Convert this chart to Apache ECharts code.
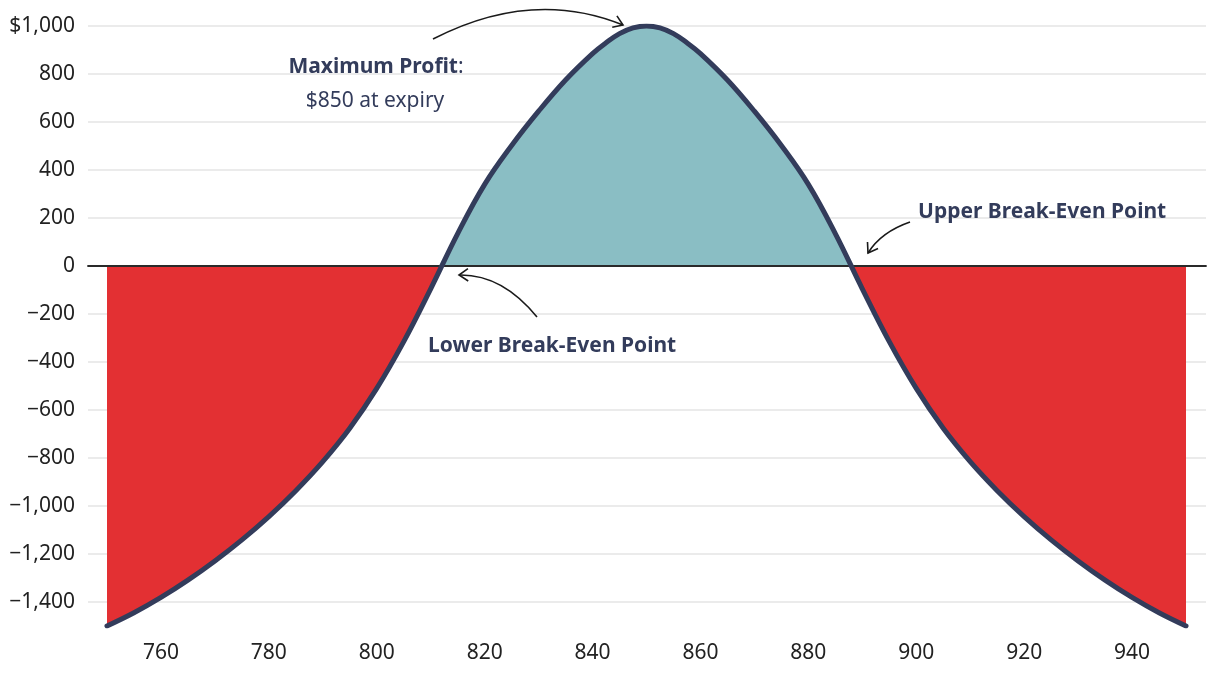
<!DOCTYPE html>
<html>
<head>
<meta charset="utf-8">
<script src="https://cdn.jsdelivr.net/npm/echarts@6/dist/echarts.min.js"></script>
<style>
  html, body { margin: 0; padding: 0; background: #ffffff; }
  #chart { width: 1220px; height: 678px; }
</style>
</head>
<body>
<div id="chart"></div>
<script>
// ---- data ----
const stockPrices = [750, 755, 760, 765, 770, 775, 780, 785, 790, 795, 800, 805, 810, 815, 820, 825, 830, 835, 840, 842.5, 845, 847.5, 850,
                     852.5, 855, 857.5, 860, 865, 870, 875, 880, 885, 890, 895, 900, 905, 910, 915, 920, 925, 930, 935, 940, 945, 950];
const profitLoss = [-1500, -1445, -1381, -1309, -1229, -1141, -1044, -936, -815, -676, -510, -315, -95, 135, 340, 502, 645, 775, 885, 930, 968, 992, 1000,
                    992, 968, 930, 885, 775, 645, 502, 340, 135, -95, -315, -510, -676, -815, -936, -1044, -1141, -1229, -1309, -1381, -1445, -1500];
const xTicks = [760, 780, 800, 820, 840, 860, 880, 900, 920, 940];
const yTicks = [-1400, -1200, -1000, -800, -600, -400, -200, 0, 200, 400, 600, 800, 1000];
const annotations = {
  maxTitle: 'Maximum Profit',
  maxValue: '$850 at expiry',
  lower: 'Lower Break-Even Point',
  upper: 'Upper Break-Even Point'
};

const X_MIN = 750, X_MAX = 950, Y_MIN = -1500, Y_MAX = 1000;
const FONT = "'Noto Sans', 'Open Sans', sans-serif";
const NAVY = '#333c5b';
const RED = '#e33033';
const TEAL = '#8abec4';

const seriesData = stockPrices.map((x, i) => [x, profitLoss[i]]);

function fmtY(v) {
  const s = Math.abs(v).toLocaleString('en-US');
  return (v < 0 ? '\u2212' : '') + (v === Y_MAX ? '$' : '') + s;
}

// arrow helper: quadratic curve p0 -> p2 with control c, open head at p2
function arrow(p0, c, p2) {
  const dx = p2[0] - c[0], dy = p2[1] - c[1];
  const len = Math.sqrt(dx * dx + dy * dy);
  const ux = dx / len, uy = dy / len;
  const L = 11, ang = 0.6;
  const w = (s) => {
    const cs = Math.cos(s * ang), sn = Math.sin(s * ang);
    const bx = -ux, by = -uy;
    return [p2[0] + L * (bx * cs - by * sn), p2[1] + L * (bx * sn + by * cs)];
  };
  return [
    { type: 'bezierCurve', silent: true, z: 20,
      shape: { x1: p0[0], y1: p0[1], cpx1: c[0], cpy1: c[1], x2: p2[0], y2: p2[1] },
      style: { stroke: '#1a1a1a', lineWidth: 1.6, fill: 'none' } },
    { type: 'polyline', silent: true, z: 20,
      shape: { points: [w(1), p2, w(-1)] },
      style: { stroke: '#1a1a1a', lineWidth: 1.6, fill: 'none', lineJoin: 'miter' } }
  ];
}

const chart = echarts.init(document.getElementById('chart'), null, { renderer: 'canvas' });

const option = {
  animation: false,
  backgroundColor: '#ffffff',
  textStyle: { fontFamily: FONT },
  grid: [
    { left: 88, right: 14, top: 26, bottom: 52 },
    { left: 107, right: 34, top: 26, bottom: 52 }
  ],
  xAxis: [
    { gridIndex: 0, type: 'value', min: 0, max: 1, z: 3,
      axisLine: { show: true, onZero: true, lineStyle: { color: '#2a2a2a', width: 1.8 } },
      axisTick: { show: false }, axisLabel: { show: false }, splitLine: { show: false } },
    { gridIndex: 1, type: 'value', min: X_MIN, max: X_MAX,
      axisLine: { show: false }, axisTick: { show: false, customValues: xTicks },
      splitLine: { show: false },
      axisLabel: { customValues: xTicks, color: '#222', fontSize: 21, fontFamily: FONT, margin: 17 } }
  ],
  yAxis: [
    { gridIndex: 0, type: 'value', min: Y_MIN, max: Y_MAX,
      axisLine: { show: false }, axisTick: { show: false, customValues: yTicks },
      splitLine: { show: true, lineStyle: { color: '#e4e4e4', width: 1.5 } },
      axisLabel: { customValues: yTicks, formatter: fmtY, color: '#222', fontSize: 21, fontFamily: FONT, margin: 13,
                   padding: [4, 0, 0, 0] } },
    { gridIndex: 1, type: 'value', min: Y_MIN, max: Y_MAX, show: false, splitLine: { show: false } }
  ],
  visualMap: {
    show: false, type: 'piecewise', seriesIndex: 0, dimension: 1,
    pieces: [{ gte: -5000, lt: 0, color: RED }, { gte: 0, lte: 5000, color: TEAL }]
  },
  series: [
    { type: 'line', xAxisIndex: 1, yAxisIndex: 1, data: seriesData, z: 2, smooth: 0.4,
      showSymbol: false, silent: true,
      lineStyle: { width: 0 }, areaStyle: { opacity: 1 } },
    { type: 'line', xAxisIndex: 1, yAxisIndex: 1, data: seriesData, z: 4, smooth: 0.4,
      showSymbol: false, silent: true,
      lineStyle: { color: NAVY, width: 5, cap: 'round', join: 'round' } }
  ]
};
chart.setOption(option);

// annotations (layout in pixels)
const graphics = [
  { type: 'text', z: 20, x: 376, y: 67, silent: true,
    style: { text: '{b|' + annotations.maxTitle + '}{n|:}', align: 'center', verticalAlign: 'middle',
      rich: { b: { fontFamily: FONT, fontWeight: 'bold', fontSize: 21, fill: NAVY },
              n: { fontFamily: FONT, fontWeight: 'normal', fontSize: 21, fill: NAVY } } } },
  { type: 'text', z: 20, x: 375, y: 101, silent: true,
    style: { text: annotations.maxValue, align: 'center', verticalAlign: 'middle',
      font: "normal 21px " + FONT, fill: NAVY } },
  { type: 'text', z: 20, x: 428, y: 346, silent: true,
    style: { text: annotations.lower, align: 'left', verticalAlign: 'middle',
      font: "bold 21px " + FONT, fill: NAVY } },
  { type: 'text', z: 20, x: 918, y: 212, silent: true,
    style: { text: annotations.upper, align: 'left', verticalAlign: 'middle',
      font: "bold 21px " + FONT, fill: NAVY } }
]
  .concat(arrow([433, 39], [532, -12], [623, 25]))
  .concat(arrow([537, 317], [502, 274], [459, 275]))
  .concat(arrow([910, 222], [881, 232], [868, 253]));

chart.setOption({ graphic: graphics });
</script>
</body>
</html>
